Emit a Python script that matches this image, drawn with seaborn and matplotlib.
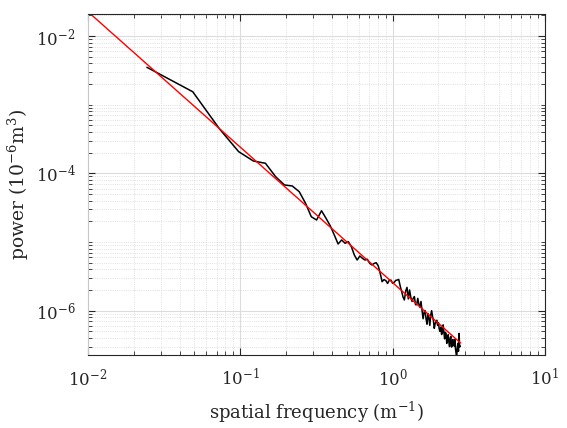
import numpy as np
import pandas as pd
import seaborn as sns
import matplotlib
matplotlib.use("Agg")
import matplotlib.pyplot as plt
from matplotlib.ticker import FixedLocator, LogLocator, NullFormatter, LogFormatterSciNotation

# spectrum: frequency step (m^-1) and power values
freq_step = 0.0244
power = [
    3.50e-3, 1.54e-3, 4.42e-4, 2.07e-4, 1.51e-4, 1.40e-4, 8.92e-5, 6.76e-5, 6.54e-5, 5.40e-5,
    3.66e-5, 2.33e-5, 2.09e-5, 2.85e-5, 2.21e-5, 1.71e-5, 1.26e-5, 9.34e-6, 1.07e-5, 9.57e-6,
    1.01e-5, 8.53e-6, 6.46e-6, 5.46e-6, 6.25e-6, 5.78e-6, 5.46e-6, 5.60e-6, 4.89e-6, 4.63e-6,
    4.86e-6, 4.99e-6, 4.49e-6, 3.50e-6, 2.64e-6, 2.83e-6, 2.74e-6, 2.49e-6, 2.76e-6, 2.78e-6,
    2.50e-6, 2.58e-6, 2.76e-6, 2.79e-6, 2.85e-6, 2.28e-6, 1.91e-6, 1.58e-6, 1.43e-6, 1.94e-6,
    2.18e-6, 1.48e-6, 2.00e-6, 1.57e-6, 1.36e-6, 1.51e-6, 1.60e-6, 1.22e-6, 1.22e-6, 1.51e-6,
    1.24e-6, 1.12e-6, 1.36e-6, 1.01e-6, 7.62e-7, 9.46e-7, 1.00e-6, 7.55e-7, 6.34e-7, 9.02e-7,
    7.74e-7, 6.10e-7, 8.67e-7, 9.98e-7, 8.22e-7, 7.16e-7, 5.52e-7, 6.44e-7, 6.94e-7, 7.24e-7,
    6.11e-7, 6.67e-7, 5.38e-7, 4.98e-7, 5.74e-7, 4.49e-7, 4.74e-7, 6.21e-7, 4.96e-7, 3.88e-7,
    4.85e-7, 4.65e-7, 3.33e-7, 3.98e-7, 4.46e-7, 3.49e-7, 2.99e-7, 4.01e-7, 4.21e-7, 2.95e-7,
    3.09e-7, 3.79e-7, 3.33e-7, 3.05e-7, 3.83e-7, 2.81e-7, 2.41e-7, 2.05e-7, 2.97e-7, 3.34e-7,
    2.56e-7, 4.66e-7, 2.96e-7, 3.04e-7,
]
freq = freq_step * np.arange(1, len(power) + 1)

# power-law fit line (end points)
fit_freq = [0.01, 2.79]
fit_power = [2.26e-2, 3.39e-7]

sns.set_style("ticks")
plt.rcParams["font.family"] = ["DejaVu Serif"]
plt.rcParams["mathtext.default"] = "regular"

df = pd.DataFrame({"freq": freq, "power": power})
fit = pd.DataFrame({"freq": fit_freq, "power": fit_power})

fig = plt.figure(figsize=(5.67, 4.28), dpi=100)
ax = fig.add_axes([0.155, 0.1706, 0.806, 0.7967])

sns.lineplot(data=df, x="freq", y="power", color="black", lw=1.1,
             estimator=None, sort=False, ax=ax)
sns.lineplot(data=fit, x="freq", y="power", color="red", lw=1.0,
             estimator=None, sort=False, ax=ax)

ax.set_xscale("log")
ax.set_yscale("log")
ax.set_xlim(1e-2, 1e1)
ax.set_ylim(2.26e-7, 2.09e-2)

ax.yaxis.set_major_locator(FixedLocator([1e-6, 1e-4, 1e-2]))
ax.yaxis.set_major_formatter(LogFormatterSciNotation())
ax.yaxis.set_minor_locator(LogLocator(base=10, subs=np.arange(1, 10), numticks=30))
ax.yaxis.set_minor_formatter(NullFormatter())
ax.xaxis.set_minor_locator(LogLocator(base=10, subs=np.arange(2, 10), numticks=30))
ax.xaxis.set_minor_formatter(NullFormatter())

ax.grid(which="major", color="#dcdcdc", lw=0.8, ls="-")
ax.grid(which="minor", color="#d6d6d6", lw=0.6, ls=":")
ax.set_axisbelow(True)

ax.tick_params(which="both", direction="in", top=True, right=True,
               colors="#262626", labelsize=12)
ax.tick_params(which="major", length=5, width=0.8, pad=9)
ax.tick_params(which="minor", length=3, width=0.6)
for s in ax.spines.values():
    s.set_color("#262626")
    s.set_linewidth(0.8)
    s.set_visible(True)
ax.spines["left"].set_color("#c8c8c8")

ax.set_xlabel("spatial frequency (m$^{-1}$)", fontsize=13, color="#262626")
ax.set_ylabel("power (10$^{-6}$m$^{3}$)", fontsize=13.5, color="#262626")
ax.xaxis.set_label_coords(0.5, -0.13)
ax.yaxis.set_label_coords(-0.125, 0.5)

fig.savefig("out.png", dpi=100)
